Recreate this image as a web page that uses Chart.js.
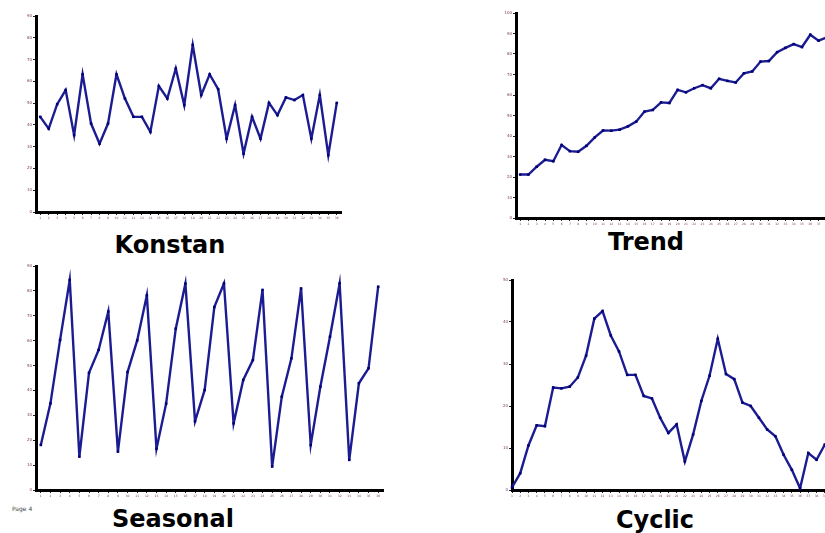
<!DOCTYPE html>
<html><head><meta charset="utf-8">
<script src="https://cdn.jsdelivr.net/npm/chart.js@4.4.1/dist/chart.umd.min.js"></script>
<style>
html,body{margin:0;padding:0;overflow:hidden;background:#fff;}
#page{position:relative;width:825px;height:533px;overflow:hidden;background:#fff;}
.box{position:absolute;}
.box canvas{display:block;}
.title{position:absolute;width:200px;text-align:center;font-family:"DejaVu Sans",Verdana,sans-serif;font-weight:bold;font-size:24px;line-height:24px;color:#000;white-space:nowrap;}
.pg{position:absolute;left:12px;top:506px;font-family:"DejaVu Sans",sans-serif;font-size:6px;line-height:6px;color:#444;}
</style></head><body>
<div id="page">
  <div class="box" style="left:24px;top:12px"><canvas id="cKonstan" width="320" height="208"></canvas></div>
  <div class="box" style="left:504px;top:9px"><canvas id="cTrend" width="330" height="217"></canvas></div>
  <div class="box" style="left:24px;top:262px"><canvas id="cSeasonal" width="362" height="236"></canvas></div>
  <div class="box" style="left:500px;top:276px"><canvas id="cCyclic" width="336" height="222"></canvas></div>
  <div class="title" style="left:70px;top:233px">Konstan</div>
  <div class="title" style="left:546px;top:230px">Trend</div>
  <div class="title" style="left:73px;top:507px">Seasonal</div>
  <div class="title" style="left:555px;top:508px">Cyclic</div>
  <div class="pg">Page 4</div>
</div>
<script>
// ---- data ----
const konstanPeriods = ['1','2','3','4','5','6','7','8','9','10','11','12','13','14','15','16','17','18','19','20','21','22','23','24','25','26','27','28','29','30','31','32','33','34','35','36'];
const konstanValues = [43.7,38.3,49.5,56.0,35.3,63.2,40.6,31.4,40.6,63.2,52.1,43.7,43.7,36.8,57.8,52.1,65.9,49.1,76.7,53.7,63.2,56.4,33.7,49.1,26.8,43.7,33.7,50.1,44.5,52.6,51.4,53.7,33.7,53.7,26.1,50.1];

const trendPeriods = ['1','2','3','4','5','6','7','8','9','10','11','12','13','14','15','16','17','18','19','20','21','22','23','24','25','26','27','28','29','30','31','32','33','34','35','36','37','38'];
const trendValues = [21.2,21.2,25.0,28.4,27.7,35.6,32.6,32.3,35.2,39.3,42.7,42.6,43.1,44.7,47.0,51.9,52.7,56.4,56.1,62.5,61.3,63.3,64.8,63.3,67.9,66.9,66.1,70.6,71.5,76.3,76.6,80.9,83.0,84.8,83.4,89.4,86.5,88.1];

const seasonalPeriods = ['1','2','3','4','5','6','7','8','9','10','11','12','13','14','15','16','17','18','19','20','21','22','23','24','25','26','27','28','29','30','31','32','33','34','35','36'];
const seasonalValues = [18.1,34.8,60.3,84.4,13.4,47.1,56.3,71.7,15.4,47.4,60.1,78.2,16.6,34.7,64.8,82.9,27.6,40.2,73.5,83.0,26.8,44.2,52.2,80.4,9.4,37.5,52.9,81.0,18.1,41.5,61.6,83.0,12.1,42.9,48.9,81.7];

const cyclicPeriods = ['1','2','3','4','5','6','7','8','9','10','11','12','13','14','15','16','17','18','19','20','21','22','23','24','25','26','27','28','29','30','31','32','33','34','35','36','37','38','39','40'];
const cyclicValues = [0.6,4.0,10.6,15.4,15.2,24.4,24.2,24.6,26.8,32.0,40.8,42.6,36.8,33.0,27.4,27.4,22.4,21.8,17.2,13.6,15.6,6.8,13.2,21.2,27.2,36.0,27.6,26.4,20.8,20.0,17.2,14.4,12.8,8.4,4.8,0.4,8.8,7.2,10.8,12.5];

// y-axis ranges (tick labels generated by the scale)
const konstanAxis = {max: 90, step: 10};
const trendAxis = {max: 100, step: 10};
const seasonalAxis = {max: 90, step: 10};
const cyclicAxis = {max: 50, step: 10};

function makeChart(id, labels, values, axis, offset) {
  const gridOpts = {drawOnChartArea: false, tickLength: 3, color: '#222', lineWidth: 1};
  const borderOpts = {color: '#000', width: 3};
  return new Chart(document.getElementById(id), {
    type: 'line',
    data: {
      labels: labels,
      datasets: [{
        data: values,
        borderColor: '#1c1c92',
        borderWidth: 2.4,
        pointRadius: 1.8,
        pointStyle: 'rect',
        pointBackgroundColor: '#000078',
        pointBorderColor: '#000078',
        pointBorderWidth: 0,
        tension: 0
      }]
    },
    options: {
      responsive: false,
      animation: false,
      devicePixelRatio: 1,
      layout: {autoPadding: false, padding: {top: 4, right: 3, left: 0, bottom: 0}},
      plugins: {legend: {display: false}, tooltip: {enabled: false}, title: {display: false}},
      scales: {
        x: {
          offset: offset,
          grid: gridOpts,
          border: borderOpts,
          ticks: {autoSkip: false, maxRotation: 0, minRotation: 0, font: {size: 3, family: 'DejaVu Sans'}, color: '#7a3a5a', padding: 1},
          afterFit: s => { s.height = 8; }
        },
        y: {
          min: 0, max: axis.max,
          grid: gridOpts,
          border: borderOpts,
          ticks: {stepSize: axis.step, font: {size: 4, family: 'DejaVu Sans'}, color: '#7a3a5a', padding: 1},
          afterFit: s => { s.width = 12; }
        }
      }
    }
  });
}

makeChart('cKonstan', konstanPeriods, konstanValues, konstanAxis, true);
makeChart('cTrend', trendPeriods, trendValues, trendAxis, true);
makeChart('cSeasonal', seasonalPeriods, seasonalValues, seasonalAxis, true);
makeChart('cCyclic', cyclicPeriods, cyclicValues, cyclicAxis, false);
</script>
</body></html>
